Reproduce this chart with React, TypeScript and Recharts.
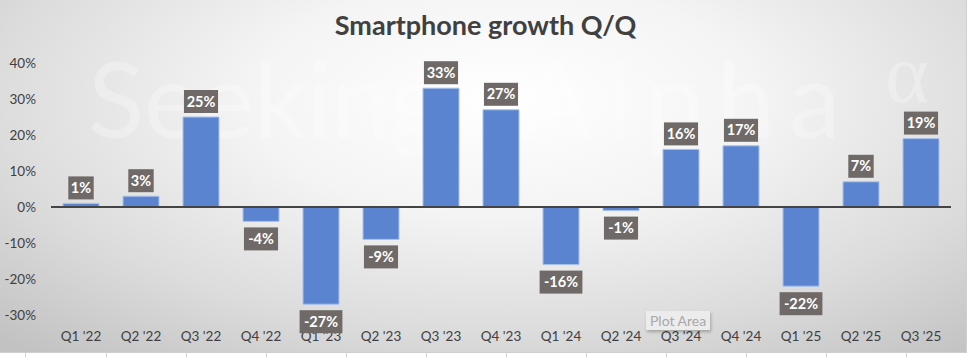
import { BarChart, Bar, XAxis, YAxis, ReferenceLine, LabelList } from 'recharts';

const quarters = [
  "Q1 '22", "Q2 '22", "Q3 '22", "Q4 '22",
  "Q1 '23", "Q2 '23", "Q3 '23", "Q4 '23",
  "Q1 '24", "Q2 '24", "Q3 '24", "Q4 '24",
  "Q1 '25", "Q2 '25", "Q3 '25",
];
const growth = [1, 3, 25, -4, -27, -9, 33, 27, -16, -1, 16, 17, -22, 7, 19];
const yTicks = [-30, -20, -10, 0, 10, 20, 30, 40];

const data = quarters.map((q, i) => ({ quarter: q, growth: growth[i] }));

const FONT = 'Lato, "Open Sans", sans-serif';

interface BoxLabelProps {
  x?: number;
  y?: number;
  width?: number;
  height?: number;
  value?: number;
}

// dark grey callout box, above positive bars and below negative ones
function BoxLabel({ x = 0, y = 0, width = 0, height = 0, value = 0 }: BoxLabelProps) {
  const text = `${value}%`;
  const boxW = text.length * 8.7 + 8;
  const boxH = 23;
  const cx = x + width / 2;
  const neg = value < 0;
  const top = neg ? Math.max(y, y + height) + 6 : Math.min(y, y + height) - 4 - boxH;
  return (
    <g>
      <rect x={cx - boxW / 2} y={top} width={boxW} height={boxH} fill="#6f6a68" />
      <text
        x={cx}
        y={top + boxH / 2 + 5}
        textAnchor="middle"
        fill="#ffffff"
        fontSize={14.5}
        fontWeight={700}
        fontFamily={FONT}
      >
        {text}
      </text>
    </g>
  );
}

const cellLines = [25, 106, 186, 266, 346, 426, 506, 586, 666, 746, 826, 906];

export default function App() {
  return (
    <div style={{ position: 'absolute', left: 0, top: 0, width: 971, height: 357, background: '#ffffff', overflow: 'hidden' }}>
      <div
        style={{
          position: 'absolute',
          left: 0,
          top: 0,
          width: 966,
          height: 352,
          background: 'radial-gradient(ellipse 75% 95% at 52% 28%, #ffffff 0%, #f4f4f4 35%, #dcdcdc 70%, #c2c2c2 100%)',
          borderRight: '1px solid #d0d0d0',
          borderBottom: '1px solid #d0d0d0',
        }}
      />
      {cellLines.map((lx) => (
        <div key={lx} style={{ position: 'absolute', left: lx, top: 353, width: 1, height: 4, background: '#d4d4d4' }} />
      ))}
      <div
        style={{
          position: 'absolute',
          left: 0,
          top: 8,
          width: 971,
          textAlign: 'center',
          fontFamily: FONT,
          fontWeight: 700,
          fontSize: 27,
          color: '#404040',
        }}
      >
        Smartphone growth Q/Q
      </div>
      <div style={{ position: 'absolute', left: 0, top: 0 }}>
        <BarChart
          width={971}
          height={357}
          data={data}
          margin={{ top: 63, right: 20, left: 0, bottom: 12 }}
          barCategoryGap="20%"
        >
          <XAxis
            dataKey="quarter"
            axisLine={false}
            tickLine={false}
            interval={0}
            height={30}
            tickMargin={10}
            tick={{ fill: '#404040', fontSize: 13.5, fontFamily: FONT }}
          />
          <YAxis
            domain={[-30, 40]}
            ticks={yTicks}
            tickFormatter={(v: number) => `${v}%`}
            axisLine={false}
            tickLine={false}
            width={51}
            tickMargin={9}
            tick={{ fill: '#404040', fontSize: 13.5, fontFamily: FONT }}
          />
          <Bar dataKey="growth" fill="#5a84d0" stroke="#a9c1ec" strokeWidth={1} isAnimationActive={false}>
            <LabelList dataKey="growth" content={<BoxLabel />} />
          </Bar>
          <ReferenceLine y={0} stroke="#444444" strokeWidth={2} />
          {/* faint watermark */}
          <text x={88} y={138} fontSize={104} fontFamily={FONT} fill="#ffffff" fillOpacity={0.28}>
            Seeking
          </text>
          <text x={522} y={138} fontSize={104} fontFamily={FONT} letterSpacing={14} fill="#ffffff" fillOpacity={0.28}>
            Alpha
          </text>
          <text x={885} y={102} fontSize={84} fontFamily="serif" fill="#ffffff" fillOpacity={0.28}>
            α
          </text>
        </BarChart>
      </div>
      <div
        style={{
          position: 'absolute',
          left: 646,
          top: 311,
          padding: '1px 4px',
          background: '#ececec',
          color: '#a8a8a8',
          fontFamily: FONT,
          fontSize: 14,
          boxShadow: '1px 2px 3px rgba(0,0,0,0.25)',
        }}
      >
        Plot Area
      </div>
    </div>
  );
}
